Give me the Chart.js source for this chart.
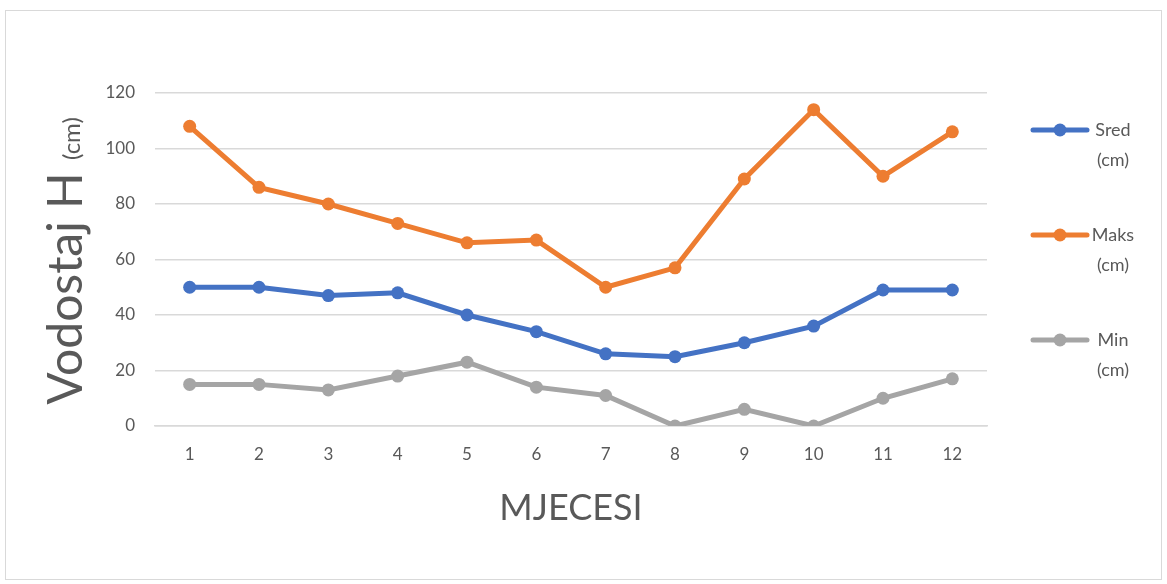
<!DOCTYPE html>
<html>
<head>
<meta charset="utf-8">
<script src="https://cdn.jsdelivr.net/npm/chart.js@4"></script>
<style>
  html, body { margin: 0; padding: 0; background: #fff; }
  #wrap { position: absolute; left: 0; top: 0; width: 1167px; height: 584px; }
  #frame { position: absolute; left: 5px; top: 10px; width: 1155px; height: 568px; border: 1px solid #d9d9d9; }
</style>
</head>
<body>
<div id="frame"></div>
<div id="wrap"><canvas id="c1" width="1167" height="584"></canvas></div>
<script>
"use strict";

let months = ['1', '2', '3', '4', '5', '6', '7', '8', '9', '10', '11', '12'];
let sred = [50, 50, 47, 48, 40, 34, 26, 25, 30, 36, 49, 49];
let maks = [108, 86, 80, 73, 66, 67, 50, 57, 89, 114, 90, 106];
let minv = [15, 15, 13, 18, 23, 14, 11, 0, 6, 0, 10, 17];
let seriesNames = ['Sred', 'Maks', 'Min'];
let unit = '(cm)';
let xTitle = 'MJECESI';
let yTitle = 'Vodostaj H';

let colors = ['#4472C4', '#ED7D31', '#A5A5A5'];
let font = 'Lato, "Open Sans", sans-serif';

function ds(name, data, col) {
    return {
        label: name + ' ' + unit,
        data: data,
        borderColor: col,
        backgroundColor: col,
        borderWidth: 5,
        pointRadius: 6.5,
        pointHoverRadius: 6.5,
        pointBorderWidth: 0,
        tension: 0,
    };
}

// titles and side legend, drawn by hand (mixed font sizes / two line labels)
let extras = {
    id: 'extras',
    afterDraw(chart) {
        let ctx = chart.ctx;
        ctx.save();
        ctx.fillStyle = '#595959';

        // x title
        ctx.font = '36px ' + font;
        ctx.textAlign = 'center';
        ctx.textBaseline = 'middle';
        ctx.fillText(xTitle, 571, 508);

        // y title, rotated
        ctx.translate(82, 261);
        ctx.rotate(-Math.PI / 2);
        ctx.font = '48px ' + font;
        let w1 = ctx.measureText(yTitle + ' ').width;
        ctx.font = '24px ' + font;
        let w2 = ctx.measureText(unit).width;
        let x0 = -(w1 + w2) / 2;
        ctx.textAlign = 'left';
        ctx.textBaseline = 'alphabetic';
        ctx.font = '48px ' + font;
        ctx.fillText(yTitle + ' ', x0, 0);
        ctx.font = '24px ' + font;
        ctx.fillText(unit, x0 + w1, -2);
        ctx.restore();

        // legend
        ctx.save();
        let ys = [130, 235, 340];
        chart.data.datasets.forEach((d, i) => {
            let y = ys[i];
            ctx.strokeStyle = d.borderColor;
            ctx.lineWidth = 5;
            ctx.lineCap = 'round';
            ctx.beginPath();
            ctx.moveTo(1033, y);
            ctx.lineTo(1087, y);
            ctx.stroke();
            ctx.fillStyle = d.borderColor;
            ctx.beginPath();
            ctx.arc(1060, y, 6.5, 0, Math.PI * 2);
            ctx.fill();
            ctx.fillStyle = '#595959';
            ctx.font = '18px ' + font;
            ctx.textAlign = 'center';
            ctx.textBaseline = 'middle';
            ctx.fillText(seriesNames[i], 1113, y);
            ctx.fillText(unit, 1113, y + 30);
        });
        ctx.restore();
    }
};

let opts = {
    type: 'line',
    data: {
        labels: months,
        datasets: [
            ds(seriesNames[0], sred, colors[0]),
            ds(seriesNames[1], maks, colors[1]),
            ds(seriesNames[2], minv, colors[2]),
        ],
    },
    options: {
        responsive: false,
        animation: false,
        layout: { padding: { left: 0, right: 180, top: 93, bottom: 58 } },
        plugins: {
            legend: { display: false },
            tooltip: { enabled: false },
        },
        scales: {
            x: {
                offset: true,
                grid: { display: false, drawTicks: false },
                border: { display: true, color: '#d9d9d9', width: 1.5 },
                ticks: { color: '#595959', font: { family: font, size: 17 }, padding: 18, maxRotation: 0 },
                afterFit: s => { s.height = 100; },
            },
            y: {
                min: 0,
                max: 120,
                grid: { color: '#d9d9d9', lineWidth: 1.5, drawTicks: false },
                border: { display: false },
                ticks: { stepSize: 20, color: '#595959', font: { family: font, size: 17 }, padding: 20 },
                afterFit: s => { s.width = 155; },
            },
        },
    },
    plugins: [extras],
};

let chart1 = new Chart(document.querySelector('#c1'), opts);
</script>
</body>
</html>
